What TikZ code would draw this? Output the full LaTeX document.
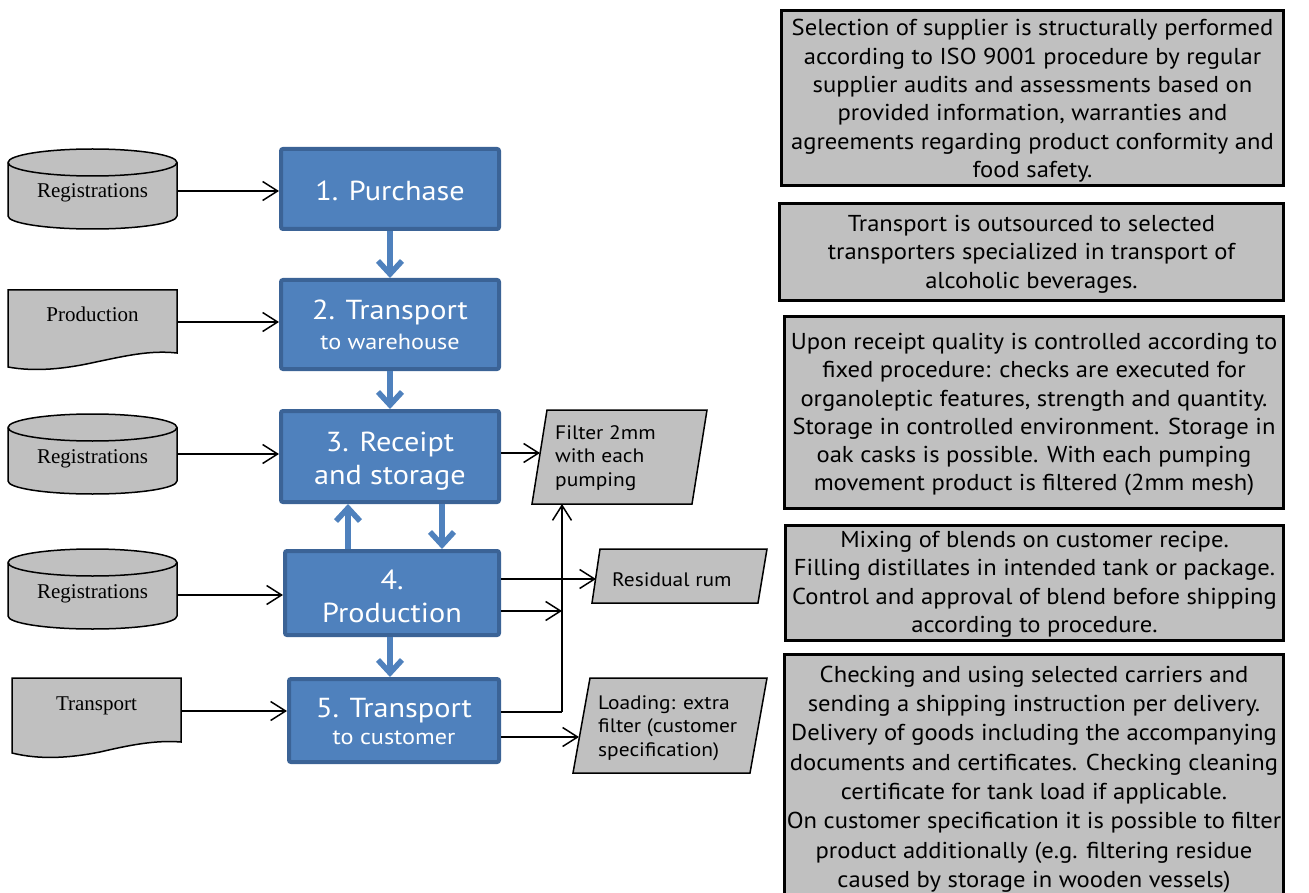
\documentclass[tikz,border=0pt]{standalone}
\usepackage{fontspec}
\setmainfont[FakeStretch=1.1]{PT Sans}
\newfontfamily\infofont[FakeStretch=1.07]{PT Sans}
\newfontfamily\serifdoc{Liberation Serif}
\usetikzlibrary{arrows.meta,backgrounds}
\definecolor{bluefill}{HTML}{4F81BD}
\definecolor{blueline}{HTML}{3B6396}
\definecolor{grayfill}{HTML}{C0C0C0}
\newcommand{\cylsketch}[1]{%
  \path[shapeline] ([yshift=-13.5pt]#1.north west) -- ([yshift=13pt]#1.south west)
    arc[start angle=180,end angle=360,x radius=84.5pt,y radius=13pt]
    -- ([yshift=-13.5pt]#1.north east)
    arc[start angle=0,end angle=180,x radius=84.5pt,y radius=13.5pt] -- cycle;
  \draw[line width=1.5pt] ([yshift=-13.5pt]#1.north west)
    arc[start angle=180,end angle=360,x radius=84.5pt,y radius=13.5pt];}
% stacked centred lines, lowered by #1, rows #2 apart
\newcommand{\procstack}[3]{\raisebox{-#1}[\height][\depth]{\fontsize{27.5}{#2}\selectfont
  \begin{tabular}{@{}c@{}}#3\end{tabular}}}
\newcommand{\infostack}[3]{\raisebox{-#1}[\height][\depth]{\infofont\fontsize{23}{#2}\selectfont
  \begin{tabular}{@{}c@{}}#3\end{tabular}}}
\begin{document}
\begin{tikzpicture}[x=1pt,y=1pt,
  procbox/.style={draw=blueline, fill=bluefill, line width=4pt, rounded corners=2pt,
    text=white, inner sep=0pt},
  infobox/.style={draw=black, fill=grayfill, line width=3pt, inner sep=0pt},
  storenode/.style={minimum width=169pt, minimum height=80pt, inner sep=0pt, outer sep=0pt,
    text height=18pt, text depth=0pt, font=\serifdoc\fontsize{21}{22}\selectfont},
  docnode/.style={minimum width=169pt, minimum height=64pt, inner sep=0pt, outer sep=0pt},
  doctext/.style={inner sep=0pt, text height=18pt, text depth=0pt,
    font=\serifdoc\fontsize{21}{22}\selectfont},
  shapeline/.style={draw=black, fill=grayfill, line width=1.5pt},
  partext/.style={inner sep=0pt, align=left, anchor=north west, font=\fontsize{19.5}{23.5}\selectfont},
  flowarr/.style={draw=bluefill, line width=5.5pt, -{Straight Barb[length=13pt,width=24pt]}},
  blackarr/.style={draw=black, line width=1.5pt, -{Straight Barb[length=15pt,width=19pt]}},
  blackline/.style={draw=black, line width=1.5pt}
]
\useasboundingbox (0,-893) rectangle (1309,0);
\clip (0,-893) rectangle (1309,0);

% process boxes
\node[procbox, minimum width=218pt, minimum height=80pt] (p1) at (390,-189)
  {\procstack{5pt}{33pt}{1. Purchase}};
\node[procbox, minimum width=218pt, minimum height=89pt] (p2) at (390,-324.5)
  {\procstack{4pt}{29.5pt}{2. Transport\\\fontsize{22}{29.5}\selectfont to warehouse}};
\node[procbox, minimum width=218pt, minimum height=91pt] (p3) at (390,-456.5)
  {\procstack{5pt}{33pt}{3. Receipt\\and storage}};
\node[procbox, minimum width=214pt, minimum height=84pt] (p4) at (392,-593)
  {\procstack{6.5pt}{33pt}{4.\\Production}};
\node[procbox, minimum width=210pt, minimum height=83pt] (p5) at (394,-720.5)
  {\procstack{5pt}{26.5pt}{5. Transport\\\fontsize{22}{26.5}\selectfont to customer}};

% left inputs
\node[storenode] (r1) at (92.5,-189) {Registrations};
\node[docnode] (d1) at (92.5,-322) {};
\node[doctext] (d1t) at (92.5,-312) {Production};
\node[storenode] (r2) at (92.5,-454) {Registrations};
\node[storenode] (r3) at (92.5,-589) {Registrations};
\node[docnode] (d2) at (96.5,-711) {};
\node[doctext] (d2t) at (96.5,-701) {Transport};

\begin{pgfonlayer}{background}
  \cylsketch{r1}
  \cylsketch{r2}
  \cylsketch{r3}
  \path[shapeline] (8,-290) -- (177,-290) -- (177,-353)
    .. controls (150,-350) and (125,-356) .. (96,-362)
    .. controls (65,-369) and (35,-372) .. (8,-367) -- cycle;
  \path[shapeline] (12,-678) -- (181,-678) -- (181,-742)
    .. controls (155,-740) and (130,-745) .. (100,-752)
    .. controls (70,-758) and (40,-760) .. (12,-753) -- cycle;
  % outputs (parallelograms)
  \path[shapeline] (547,-410) -- (707,-410) -- (692,-504) -- (532,-504) -- cycle;
  \path[shapeline] (600,-549) -- (767,-549) -- (758,-603) -- (592,-603) -- cycle;
  \path[shapeline] (590,-678) -- (767,-678) -- (750,-773) -- (573,-773) -- cycle;
\end{pgfonlayer}

\node[partext] (o1) at (555,-425) {Filter 2mm\\with each\\pumping};
\node[partext, anchor=west] (o2) at (612,-580) {Residual rum};
\node[partext] (o3) at (598,-695) {Loading: extra\\filter (customer\\specification)};

\coordinate (o1in) at (540,-453);
\coordinate (o1bot) at (562,-504);
\coordinate (o2in) at (596,-579);
\coordinate (o3in) at (579,-737);
\coordinate (junc) at (562,-712);
\coordinate (p4out) at (562,-611);
\coordinate (r1out) at ([yshift=-2pt]r1.east);
\coordinate (r3out) at ([yshift=-6pt]r3.east);

% black arrows from inputs
\draw[blackarr] (r1out) -- (p1.west |- r1out);
\draw[blackarr] (d1.east) -- (p2.west |- d1.east);
\draw[blackarr] (r2.east) -- (p3.west |- r2.east);
\draw[blackarr] (r3out) -- (p4.west |- r3out);
\draw[blackarr] (d2.east) -- (p5.west |- d2.east);

% flow arrows
\draw[flowarr] (p1.south) -- (p2.north);
\draw[flowarr] (p2.south) -- (p3.north);
\draw[flowarr] ([xshift=-44pt]p4.north) -- ([xshift=-44pt]p4.north |- p3.south);
\draw[flowarr] ([xshift=52pt]p3.south) -- ([xshift=52pt]p3.south |- p4.north);
\draw[flowarr] ([xshift=-2pt]p4.south) -- ([xshift=-2pt]p4.south |- p5.north);

% output arrows
\draw[blackarr] (p3.east |- o1in) -- (o1in);
\draw[blackarr] (p4.east |- o2in) -- (o2in);
\draw[blackarr] (p4.east |- p4out) -- (p4out);
\draw[blackline] (p5.east |- junc) -- (junc);
\draw[blackarr] (junc) -- (o1bot);
\draw[blackarr] (p5.east |- o3in) -- (o3in);

% info boxes
\node[infobox, minimum width=502pt, minimum height=175pt] (i1) at (1032.5,-98)
  {\infostack{3pt}{28.4pt}{Selection of supplier is structurally performed\\according to ISO 9001 procedure by regular\\supplier audits and assessments based on\\provided information, warranties and\\agreements regarding product conformity and\\food safety.}};
\node[infobox, minimum width=504pt, minimum height=97pt] (i2) at (1031.5,-252)
  {\infostack{2pt}{28.4pt}{Transport is outsourced to selected\\transporters specialized in transport of\\alcoholic beverages.}};
\node[infobox, minimum width=499pt, minimum height=192pt] (i3) at (1034,-412.5)
  {\infostack{2pt}{28.2pt}{Upon receipt quality is controlled according to\\fixed procedure: checks are executed for\\organoleptic features, strength and quantity.\\Storage in controlled environment. Storage in\\oak casks is possible. With each pumping\\movement product is filtered (2mm mesh)}};
\node[infobox, minimum width=498pt, minimum height=115pt] (i4) at (1034.5,-583)
  {\infostack{1.5pt}{28.4pt}{Mixing of blends on customer recipe.\\Filling distillates in intended tank or package.\\Control and approval of blend before shipping\\according to procedure.}};
\node[infobox, minimum width=499pt, minimum height=250pt] (i5) at (1034,-779)
  {\infostack{0pt}{29.3pt}{Checking and using selected carriers and\\sending a shipping instruction per delivery.\\Delivery of goods including the accompanying\\documents and certificates. Checking cleaning\\certificate for tank load if applicable.\\On customer specification it is possible to filter\\product additionally (e.g. filtering residue\\caused by storage in wooden vessels)}};
\end{tikzpicture}
\end{document}
